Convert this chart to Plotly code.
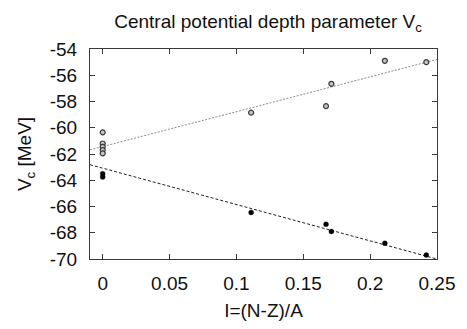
import numpy as np
import plotly.graph_objects as go

# Central potential depth V_c versus isospin asymmetry I=(N-Z)/A
i_open = [0.0, 0.0, 0.0, 0.0, 0.0, 0.111, 0.167, 0.171, 0.211, 0.242]
v_open = [-60.35, -61.2, -61.45, -61.7, -61.95, -58.85, -58.35, -56.65, -54.9, -55.0]

i_filled = [0.0, 0.0, 0.111, 0.167, 0.171, 0.211, 0.242]
v_filled = [-63.5, -63.75, -66.45, -67.35, -67.9, -68.8, -69.7]

# Linear fits V = V0 + V1 * I
fit_open = {"v0": -61.43, "v1": 26.54}
fit_filled = {"v0": -63.08, "v1": -27.7}

x_ticks = [0, 0.05, 0.1, 0.15, 0.2, 0.25]
x_tick_text = ["0", "0.05", "0.1", "0.15", "0.2", "0.25"]
y_ticks = [-70, -68, -66, -64, -62, -60, -58, -56, -54]
y_tick_text = ["-70", "-68", "-66", "-64", "-62", "-60", "-58", "-56", "-54"]

x_range = [-0.0095, 0.25]
y_range = [-70, -54]

FONT = "Liberation Sans, Arial, sans-serif"
AXIS_COLOR = "#3a3a3a"
TEXT_SIZE = 19

xf = np.linspace(x_range[0], x_range[1], 50)

fig = go.Figure()
fig.add_trace(go.Scatter(
    x=xf, y=fit_open["v0"] + fit_open["v1"] * xf, mode="lines",
    line=dict(color="#8a8a8a", width=1, dash="2px,1.5px"), showlegend=False,
))
fig.add_trace(go.Scatter(
    x=xf, y=fit_filled["v0"] + fit_filled["v1"] * xf, mode="lines",
    line=dict(color="#222222", width=1, dash="3px,2px"), showlegend=False,
))
fig.add_trace(go.Scatter(
    x=i_open, y=v_open, mode="markers",
    marker=dict(symbol="circle", size=5, color="#c4c4c4",
                line=dict(color="#3a3a3a", width=1.2)),
    showlegend=False,
))
fig.add_trace(go.Scatter(
    x=i_filled, y=v_filled, mode="markers",
    marker=dict(symbol="circle", size=5, color="#000000",
                line=dict(color="#000000", width=0.3)),
    showlegend=False,
))

axis_common = dict(
    showgrid=False, zeroline=False, showline=True, linecolor=AXIS_COLOR,
    linewidth=1.2, mirror="allticks", ticks="inside", ticklen=5,
    tickcolor=AXIS_COLOR, tickwidth=1,
    tickfont=dict(family=FONT, size=TEXT_SIZE, color="#111111"),
)

fig.update_layout(
    width=467, height=329,
    margin=dict(l=90, r=21, t=49, b=65),
    paper_bgcolor="white", plot_bgcolor="white",
    title=dict(
        text="Central potential depth parameter V<sub>c</sub>",
        x=0.574, xanchor="center", y=0.935, yanchor="middle",
        font=dict(family=FONT, size=TEXT_SIZE, color="#111111"),
    ),
    xaxis=dict(
        range=x_range, tickvals=x_ticks, ticktext=x_tick_text,
        ticklabelstandoff=7,
        title=dict(text="I=(N-Z)/A", standoff=10,
                   font=dict(family=FONT, size=TEXT_SIZE, color="#111111")),
        **axis_common,
    ),
    yaxis=dict(
        range=y_range, tickvals=y_ticks, ticktext=y_tick_text,
        ticklabelstandoff=8,
        title=dict(text="V<sub>c</sub> [MeV]", standoff=12,
                   font=dict(family=FONT, size=TEXT_SIZE, color="#111111")),
        **axis_common,
    ),
)

fig.write_html("out.html")
